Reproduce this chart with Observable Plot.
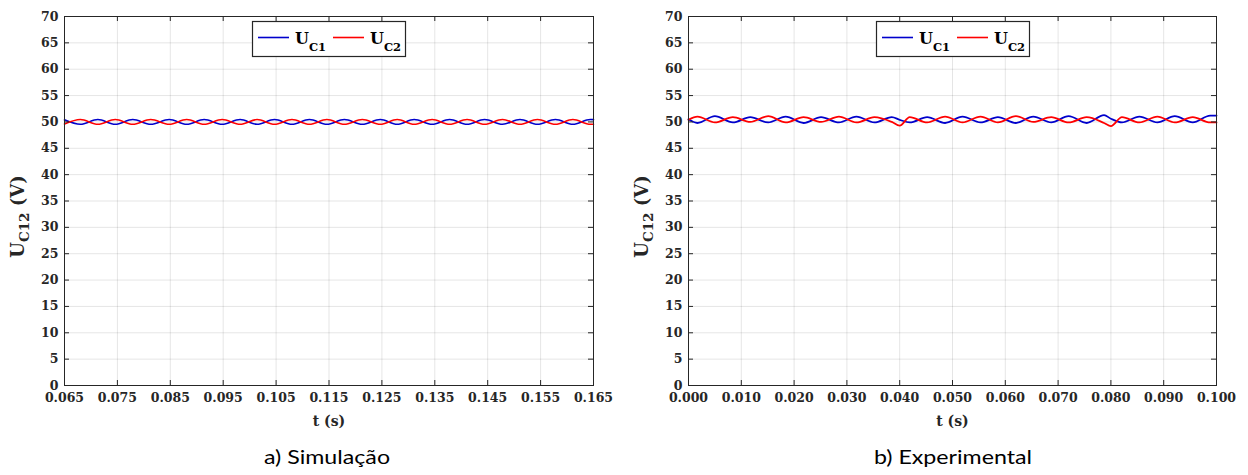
<!DOCTYPE html>
<html><head><meta charset="utf-8">
<script src="https://cdn.jsdelivr.net/npm/d3@7"></script>
<script src="https://cdn.jsdelivr.net/npm/@observablehq/plot@0.6"></script>
<style>
body{margin:0;background:#fff;}
#wrap{position:relative;width:1248px;height:475px;overflow:hidden;}
.panel{position:absolute;top:0;}
#wrap svg text{font-family:'DejaVu Serif',serif !important;}
.cap{position:absolute;top:444px;font-family:Lato,"Noto Sans",sans-serif;font-size:20px;color:#000;text-align:center;width:400px;line-height:24px;transform:scaleX(1.16);}
</style></head><body>
<div id="wrap">
<div class="panel" id="p1" style="left:0"></div>
<div class="panel" id="p2" style="left:624px"></div>
<div class="cap" style="left:127px">a) Simulação</div>
<div class="cap" style="left:753px">b) Experimental</div>
</div>
<script>
// ---------- data ----------
const yTicks = [0,5,10,15,20,25,30,35,40,45,50,55,60,65,70];
const simTicks = [0.065,0.075,0.085,0.095,0.105,0.115,0.125,0.135,0.145,0.155,0.165];
const expTicks = [0.000,0.010,0.020,0.030,0.040,0.050,0.060,0.070,0.080,0.090,0.100];

// simulation: extrema of the ripple (s, V)
const simT   = [0.0650,0.0680,0.0713,0.0746,0.0779,0.0813,0.0848,0.0881,0.0914,0.0948,0.0982,0.1014,0.1047,0.1080,0.1113,0.1146,0.1179,0.1213,0.1247,0.1279,0.1311,0.1345,0.1378,0.1411,0.1444,0.1478,0.1511,0.1544,0.1578,0.1611,0.1644,0.1650];
const simUC1 = [50.40,49.55,50.45,49.55,50.45,49.55,50.45,49.55,50.45,49.55,50.45,49.55,50.45,49.55,50.45,49.55,50.45,49.55,50.45,49.55,50.45,49.55,50.45,49.55,50.45,49.55,50.45,49.55,50.45,49.55,50.45,50.44];
const simUC2 = [49.60,50.45,49.55,50.45,49.55,50.45,49.55,50.45,49.55,50.45,49.55,50.45,49.55,50.45,49.55,50.45,49.55,50.45,49.55,50.45,49.55,50.45,49.55,50.45,49.55,50.45,49.55,50.45,49.55,50.45,49.55,49.56];

// experimental: extrema of the measured ripple (s, V)
const expT   = [0.0000,0.0017,0.0050,0.0084,0.0117,0.0151,0.0184,0.0218,0.0251,0.0285,0.0318,0.0352,0.0385,0.0400,0.0419,0.0452,0.0486,0.0519,0.0553,0.0586,0.0620,0.0653,0.0687,0.0720,0.0754,0.0787,0.0800,0.0821,0.0854,0.0888,0.0921,0.0955,0.0988,0.1000];
const expUC1 = [50.5,49.8,51.1,49.9,50.9,49.9,51.0,49.8,50.9,49.9,51.0,49.9,50.9,50.4,49.9,50.9,49.8,51.0,49.9,50.9,49.8,51.0,49.9,51.1,49.8,51.3,50.6,49.9,51.0,49.9,51.1,49.9,51.2,51.2];
const expUC2 = [50.4,51.0,49.9,50.9,50.0,51.1,49.9,50.9,50.0,51.0,49.9,50.9,50.0,49.3,50.9,49.9,51.0,49.9,51.0,49.9,51.1,50.0,50.9,49.9,50.9,49.8,49.2,50.9,49.9,51.0,49.9,50.9,49.9,49.9];

// ---------- drawing ----------
const AX = "#262626";
const BLUE = "#0000CC", RED = "#FF0000";
const W = 624, H = 435, ML = 64, MT = 16, MB = 50;

function panel(el, mr, domain, ticks, fmt, t, u1, u2, sw) {
  const iw = W - ML - mr, ih = H - MT - MB;
  const chart = Plot.plot({
    width: W, height: H,
    marginLeft: ML, marginRight: mr, marginTop: MT, marginBottom: MB,
    style: {fontFamily: "'DejaVu Serif', serif", fontWeight: "bold", fontSize: "12.5px", color: AX, background: "white", overflow: "visible"},
    x: {domain, label: null},
    y: {domain: [0, 70], label: null},
    marks: [
      Plot.gridX(ticks, {stroke: "#000", strokeOpacity: 0.1}),
      Plot.gridY(yTicks, {stroke: "#000", strokeOpacity: 0.1}),
      Plot.line(t, {x: t, y: u1, stroke: BLUE, strokeWidth: sw, curve: "monotone-x"}),
      Plot.line(t, {x: t, y: u2, stroke: RED, strokeWidth: sw, curve: "monotone-x"}),
      Plot.frame({stroke: AX, strokeWidth: 1}),
      Plot.ruleX(ticks, {insetTop: ih - 5, stroke: AX}),
      Plot.ruleX(ticks, {insetBottom: ih - 5, stroke: AX}),
      Plot.ruleY(yTicks, {insetRight: iw - 5, stroke: AX}),
      Plot.ruleY(yTicks, {insetLeft: iw - 5, stroke: AX}),
      Plot.axisX(ticks, {tickSize: 0, tickPadding: 8, tickFormat: fmt, label: null, fill: AX}),
      Plot.axisY(yTicks, {tickSize: 0, tickPadding: 6, label: null, fill: AX}),
      Plot.text(["t (s)"], {frameAnchor: "bottom", dy: 40, fontSize: 14, fontWeight: "bold", fill: AX})
    ]
  });
  document.getElementById(el).appendChild(chart);
  const svg = d3.select(chart);
  // y label
  const yl = svg.append("text")
    .attr("transform", `translate(24,${MT + ih / 2 + 16}) rotate(-90)`)
    .attr("text-anchor", "middle")
    .attr("fill", AX).attr("font-weight", "bold").attr("font-size", 18);
  yl.append("tspan").text("U");
  yl.append("tspan").attr("font-size", 13.5).attr("dy", 5).text("C12");
  yl.append("tspan").attr("dy", -5).text(" (V)");
  // legend
  const lg = svg.append("g").attr("font-weight", "bold").attr("fill", "#000").attr("text-anchor", "start");
  lg.append("rect").attr("x", 252.5).attr("y", 21.5).attr("width", 153).attr("height", 35).attr("fill", "white").attr("stroke", AX).attr("stroke-width", 1.2);
  [[BLUE, "C1", 258], [RED, "C2", 333]].forEach(([c, s, x0]) => {
    lg.append("line").attr("x1", x0).attr("x2", x0 + 31).attr("y1", 37.5).attr("y2", 37.5).attr("stroke", c).attr("stroke-width", 1.6);
    const tx = lg.append("text").attr("x", x0 + 37).attr("y", 43.5).attr("font-size", 16).attr("text-anchor", "start");
    tx.append("tspan").text("U");
    tx.append("tspan").attr("font-size", 11.5).attr("dy", 7).text(s);
  });
}

panel("p1", 31, [0.065, 0.165], simTicks, d3.format(".3f"), simT, simUC1, simUC2, 1.6);
panel("p2", 32, [0, 0.1], expTicks, d3.format(".3f"), expT, expUC1, expUC2, 1.8);
</script>
</body></html>
